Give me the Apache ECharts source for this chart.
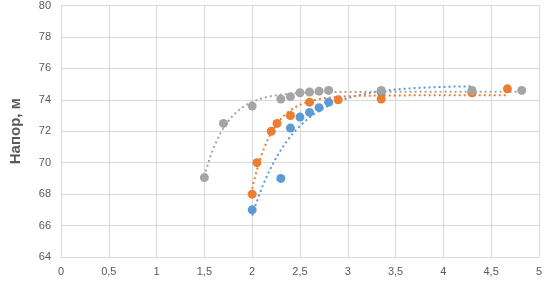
<!DOCTYPE html>
<html>
<head>
<meta charset="utf-8">
<script src="https://cdn.jsdelivr.net/npm/echarts@6/dist/echarts.min.js"></script>
<style>
  html, body { margin: 0; padding: 0; background: #fff; }
</style>
</head>
<body>
<div id="chart" style="width: 545px; height: 282px;"></div>
<script>
// точки серий (расход, напор)
const blueX = [2.0, 2.3, 2.4, 2.5, 2.6, 2.7, 2.8, 3.35, 4.3];
const blueY = [67.0, 69.0, 72.2, 72.9, 73.2, 73.5, 73.85, 74.5, 74.5];
const orangeX = [2.0, 2.05, 2.2, 2.26, 2.4, 2.6, 2.9, 3.35, 4.3, 4.67];
const orangeY = [68.0, 70.0, 72.0, 72.5, 73.0, 73.85, 74.0, 74.05, 74.45, 74.7];
const grayX = [1.5, 1.7, 2.0, 2.3, 2.4, 2.5, 2.6, 2.7, 2.8, 3.35, 4.3, 4.82];
const grayY = [69.05, 72.5, 73.6, 74.05, 74.2, 74.45, 74.5, 74.55, 74.6, 74.6, 74.6, 74.6];

const yTicks = [64, 66, 68, 70, 72, 74, 76, 78, 80];

// линия тренда: y = a + d*exp(-c*x), МНК по точкам серии
function satFit(xs, ys) {
  let best = null;
  for (let c = 0.3; c <= 8; c += 0.01) {
    const u = xs.map(x => Math.exp(-c * x));
    const n = xs.length;
    const su = u.reduce((s, v) => s + v, 0);
    const sy = ys.reduce((s, v) => s + v, 0);
    const suu = u.reduce((s, v) => s + v * v, 0);
    const suy = u.reduce((s, v, i) => s + v * ys[i], 0);
    const d = (n * suy - su * sy) / (n * suu - su * su);
    const a = (sy - d * su) / n;
    const sse = xs.reduce((s, x, i) => s + Math.pow(a + d * u[i] - ys[i], 2), 0);
    if (!best || sse < best.sse) best = { a, d, c, sse };
  }
  return best;
}

function trend(xs, ys) {
  const f = satFit(xs, ys);
  const x0 = Math.min(...xs), x1 = Math.max(...xs);
  const pts = [];
  for (let i = 0; i <= 100; i++) {
    const x = x0 + (x1 - x0) * i / 100;
    pts.push([x, f.a + f.d * Math.exp(-f.c * x)]);
  }
  return pts;
}

const zip = (xs, ys) => xs.map((x, i) => [x, ys[i]]);

const colors = { blue: '#5B9BD5', orange: '#ED7D31', gray: '#A5A5A5' };

function trendSeries(xs, ys, color) {
  return {
    type: 'line',
    data: trend(xs, ys),
    showSymbol: false,
    silent: true,
    lineStyle: { color: color, width: 2, type: [2, 3] },
    z: 1
  };
}

function dotSeries(xs, ys, color) {
  return {
    type: 'scatter',
    data: zip(xs, ys),
    symbolSize: 9,
    itemStyle: { color: color, opacity: 1 },
    z: 3
  };
}

const chart = echarts.init(document.getElementById('chart'));
chart.setOption({
  animation: false,
  grid: { left: 61, right: 4, top: 4, bottom: 25 },
  xAxis: {
    type: 'value',
    min: 0,
    max: 5,
    interval: 0.5,
    axisLine: { show: true, lineStyle: { color: '#D9D9D9' } },
    axisTick: { show: false },
    splitLine: { show: true, lineStyle: { color: '#D9D9D9' } },
    axisLabel: {
      color: '#595959',
      fontFamily: 'Liberation Sans',
      fontSize: 11,
      margin: 9,
      formatter: v => String(v).replace('.', ',')
    }
  },
  yAxis: {
    type: 'value',
    min: yTicks[0],
    max: yTicks[yTicks.length - 1],
    interval: 2,
    name: 'Напор, м',
    nameLocation: 'middle',
    nameGap: 38,
    nameTextStyle: {
      color: '#595959',
      fontFamily: 'Liberation Sans',
      fontSize: 15,
      fontWeight: 'bold'
    },
    axisLine: { show: true, lineStyle: { color: '#D9D9D9' } },
    axisTick: { show: false },
    splitLine: { show: true, lineStyle: { color: '#D9D9D9' } },
    axisLabel: {
      color: '#595959',
      fontFamily: 'Liberation Sans',
      fontSize: 11,
      margin: 10
    }
  },
  series: [
    trendSeries(blueX, blueY, colors.blue),
    trendSeries(orangeX, orangeY, colors.orange),
    trendSeries(grayX, grayY, colors.gray),
    dotSeries(blueX, blueY, colors.blue),
    dotSeries(orangeX, orangeY, colors.orange),
    dotSeries(grayX, grayY, colors.gray)
  ]
});
</script>
</body>
</html>
